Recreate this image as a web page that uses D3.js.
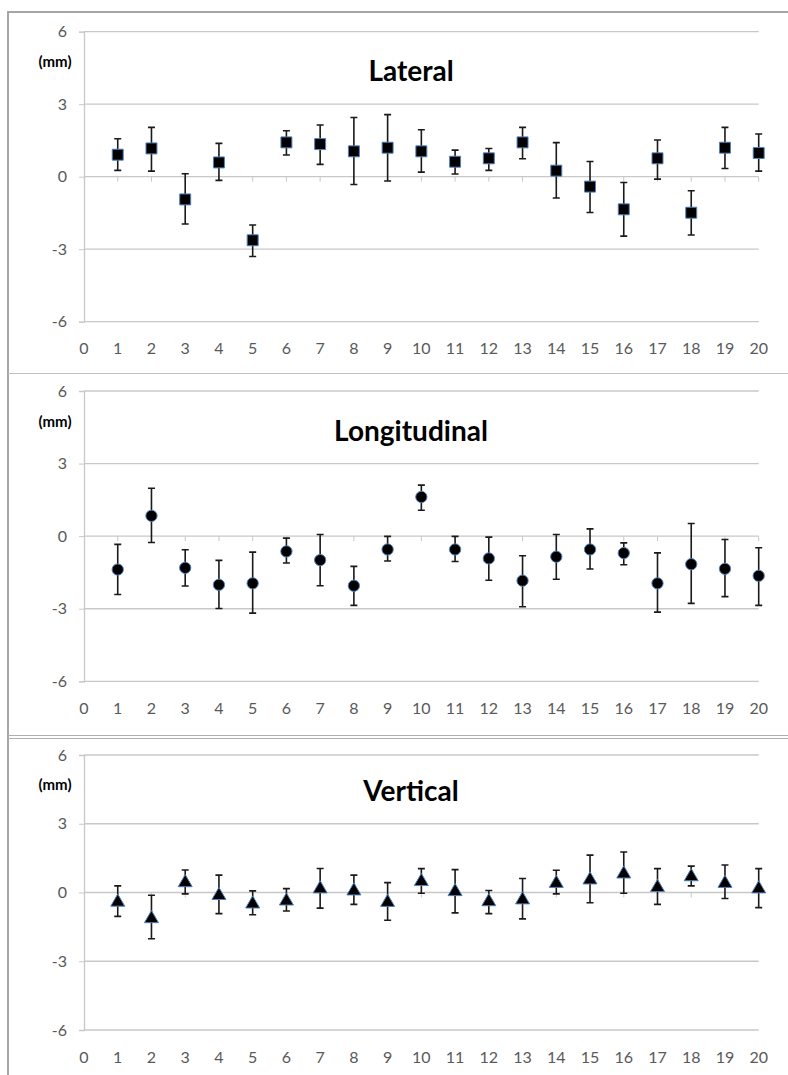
<!DOCTYPE html>
<html>
<head>
<meta charset="utf-8">
<script src="https://cdn.jsdelivr.net/npm/d3@7"></script>
<style>
	body { margin: 0; background: #fff; }
	text { font-family: Lato, "Liberation Sans", sans-serif; }
</style>
</head>
<body>
<div id="svg"></div>
<script>
const width = 788,
			height = 1075;

// case numbers on the x axis
const cases = [1, 2, 3, 4, 5, 6, 7, 8, 9, 10, 11, 12, 13, 14, 15, 16, 17, 18, 19, 20];
const xTicks = [0, 1, 2, 3, 4, 5, 6, 7, 8, 9, 10, 11, 12, 13, 14, 15, 16, 17, 18, 19, 20];
const yTicks = [-6, -3, 0, 3, 6];

// Lateral (mm)
const lateralMean = [0.91, 1.17, -0.94, 0.59, -2.63, 1.42, 1.35, 1.05, 1.2, 1.05, 0.62, 0.76, 1.42, 0.25, -0.41, -1.35, 0.76, -1.49, 1.2, 0.98];
const lateralHigh = [1.57, 2.04, 0.12, 1.38, -2.0, 1.9, 2.14, 2.45, 2.57, 1.94, 1.1, 1.17, 2.04, 1.41, 0.63, -0.24, 1.52, -0.58, 2.04, 1.77];
const lateralLow  = [0.26, 0.23, -1.96, -0.15, -3.3, 0.9, 0.51, -0.32, -0.18, 0.19, 0.11, 0.26, 0.74, -0.88, -1.48, -2.46, -0.1, -2.41, 0.34, 0.23];

// Longitudinal (mm)
const longMean = [-1.38, 0.84, -1.31, -2.01, -1.95, -0.63, -0.99, -2.05, -0.55, 1.62, -0.55, -0.92, -1.84, -0.85, -0.55, -0.7, -1.95, -1.16, -1.35, -1.64];
const longHigh = [-0.34, 1.98, -0.56, -1.0, -0.66, -0.08, 0.07, -1.25, -0.01, 2.11, -0.01, -0.04, -0.81, 0.07, 0.3, -0.28, -0.69, 0.52, -0.14, -0.48];
const longLow  = [-2.41, -0.26, -2.06, -2.99, -3.18, -1.11, -2.05, -2.86, -1.03, 1.07, -1.05, -1.82, -2.92, -1.78, -1.36, -1.18, -3.14, -2.78, -2.5, -2.86];

// Vertical (mm)
const vertMean = [-0.42, -1.14, 0.43, -0.13, -0.5, -0.37, 0.16, 0.07, -0.43, 0.48, 0.04, -0.4, -0.32, 0.4, 0.55, 0.81, 0.22, 0.69, 0.4, 0.16];
const vertHigh = [0.29, -0.12, 0.98, 0.76, 0.07, 0.17, 1.05, 0.76, 0.43, 1.04, 1.0, 0.09, 0.61, 0.97, 1.63, 1.77, 1.04, 1.15, 1.2, 1.04];
const vertLow  = [-1.04, -2.02, -0.06, -0.92, -0.97, -0.81, -0.68, -0.52, -1.21, -0.03, -0.89, -0.92, -1.15, -0.06, -0.45, -0.03, -0.52, 0.29, -0.26, -0.66];

const svg = d3.select("#svg")
	.append("svg")
		.attr("width", width)
		.attr("height", height);

const x = d3.scaleLinear()
		.domain([0, 20])
		.range([84, 758.7]);

const gridColor = "#c8c8c8",
			labelColor = "#595959",
			markerEdge = "#4f81bd";

// outer frame lines
const frame = svg.append("g")
		.attr("stroke", "#a6a6a6")
		.attr("fill", "none");
frame.append("path").attr("stroke-width", 2).attr("d", "M8,1075V12H788");
frame.append("path").attr("stroke", "#c0c0c0").attr("d", "M8,373.5H788");
frame.append("path").attr("stroke", "#b0b0b0").attr("d", "M8,735.5H788M8,738.5H788");

const panels = [
	{ title: "Lateral", mean: lateralMean, high: lateralHigh, low: lateralLow, symbol: d3.symbolSquare, size: 120, top: 31.7, bottom: 321.7, titleY: 81, mmY: 67, labelY: 354 },
	{ title: "Longitudinal", mean: longMean, high: longHigh, low: longLow, symbol: d3.symbolCircle, size: 100, top: 391, bottom: 681.3, titleY: 441, mmY: 427, labelY: 714 },
	{ title: "Vertical", mean: vertMean, high: vertHigh, low: vertLow, symbol: d3.symbolTriangle, size: 85, top: 755, bottom: 1030, titleY: 801, mmY: 790, labelY: 1063 }
];

panels.forEach(drawPanel);

function drawPanel(p) {
	const y = d3.scaleLinear()
			.domain([-6, 6])
			.range([p.bottom, p.top]);

	const g = svg.append("g");

	// horizontal grid lines
	g.append("g")
		.selectAll("line")
		.data(yTicks)
		.enter()
		.append("line")
			.attr("x1", x(0))
			.attr("x2", x(20))
			.attr("y1", d => y(d))
			.attr("y2", d => y(d))
			.attr("stroke", gridColor)
			.attr("stroke-width", 1.3);

	// y axis
	const yAxis = g.append("g")
			.attr("transform", `translate(${x(0)},0)`)
			.call(d3.axisLeft(y)
					.tickValues(yTicks)
					.tickFormat(d => String(d))
					.tickSize(5)
					.tickPadding(12));
	yAxis.select(".domain").attr("stroke", gridColor).attr("stroke-width", 1.3);
	yAxis.selectAll(".tick line").attr("stroke", gridColor);
	yAxis.selectAll(".tick text")
			.attr("fill", labelColor)
			.style("font-size", "16px")
			.style("font-family", "Lato, sans-serif");

	// x ticks sit on the zero line
	g.append("g")
		.selectAll("line")
		.data(cases)
		.enter()
		.append("line")
			.attr("x1", d => x(d))
			.attr("x2", d => x(d))
			.attr("y1", y(0))
			.attr("y2", y(0) + 5)
			.attr("stroke", gridColor);

	// x labels at the bottom
	g.append("g")
			.attr("text-anchor", "middle")
		.selectAll("text")
		.data(xTicks)
		.enter()
		.append("text")
			.attr("x", d => x(d))
			.attr("y", p.labelY)
			.attr("fill", labelColor)
			.style("font-size", "16px")
			.text(d => d);

	g.append("text")
			.attr("x", 55)
			.attr("y", p.mmY)
			.attr("text-anchor", "middle")
			.style("font-size", "15px")
			.style("font-weight", "bold")
			.text("(mm)");

	g.append("text")
			.attr("x", 411)
			.attr("y", p.titleY)
			.attr("text-anchor", "middle")
			.style("font-size", "28px")
			.style("font-weight", "bold")
			.text(p.title);

	// error bars
	g.append("g")
			.attr("stroke", "#1a1a1a")
			.attr("stroke-width", 1.6)
			.attr("fill", "none")
		.selectAll("path")
		.data(cases)
		.enter()
		.append("path")
			.attr("d", (d, i) => {
				const cx = x(d), h = y(p.high[i]), l = y(p.low[i]);
				return `M${cx},${h}V${l}M${cx - 3.5},${h}H${cx + 3.5}M${cx - 3.5},${l}H${cx + 3.5}`;
			});

	// markers
	g.append("g")
		.selectAll("path")
		.data(cases)
		.enter()
		.append("path")
			.attr("transform", (d, i) => `translate(${x(d)},${y(p.mean[i])})`)
			.attr("d", d3.symbol().type(p.symbol).size(p.size))
			.attr("fill", "#000")
			.attr("stroke", markerEdge)
			.attr("stroke-width", 1);
}
</script>
</body>
</html>
